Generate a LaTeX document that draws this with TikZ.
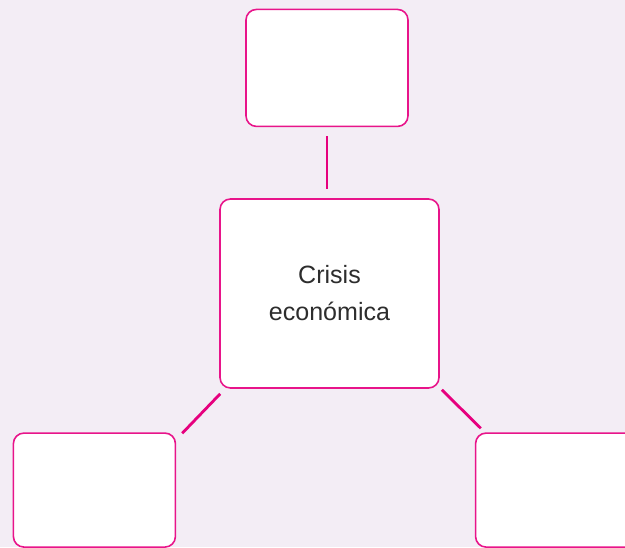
\documentclass[tikz,border=0pt]{standalone}
\usepackage{fontspec}
\setmainfont{Liberation Sans}
\usetikzlibrary{positioning}
\definecolor{PanelLilac}{RGB}{243,237,245}
\definecolor{MapMagenta}{RGB}{232,20,138}
\definecolor{LinkMagenta}{RGB}{230,0,126}
\definecolor{InkGrey}{RGB}{45,45,45}

\begin{document}
\begin{tikzpicture}[every node/.style={font=\fontsize{28.5}{42}\selectfont, align=center, text=InkGrey},
  mapbox/.style={draw=MapMagenta, line width=1.8pt, fill=white, rounded corners=0.42cm, inner sep=0pt},
  link/.style={draw=LinkMagenta, line width=3.2pt}]
  \fill[PanelLilac] (0,0) rectangle (25,21.88);
  \clip (0,0) rectangle (25,21.88);
  \node[mapbox, minimum width=8.76cm, minimum height=7.56cm] (centre) at (13.18,10.14) {Crisis\\econ\'omica};
  \node[mapbox, minimum width=6.48cm, minimum height=4.68cm, above=2.84cm of centre, xshift=-0.1cm] (top) {};
  \node[mapbox, minimum width=6.48cm, minimum height=4.56cm, below left=1.74cm and 1.72cm of centre.south west, anchor=north east] (left) {};
  \node[mapbox, minimum width=6.48cm, minimum height=4.56cm, below right=1.74cm and 1.4cm of centre.south east, anchor=north west] (right) {};
  \draw[link, shorten <=0.36cm, shorten >=0.36cm] (top.south) -- (top.south |- centre.north);
  \draw[link] ([xshift=0.04cm, yshift=-0.2cm]centre.south west) -- ([xshift=0.24cm, yshift=-0.04cm]left.north east);
  \draw[link] ([xshift=0.08cm, yshift=-0.04cm]centre.south east) -- ([xshift=0.24cm, yshift=0.16cm]right.north west);
\end{tikzpicture}
\end{document}
